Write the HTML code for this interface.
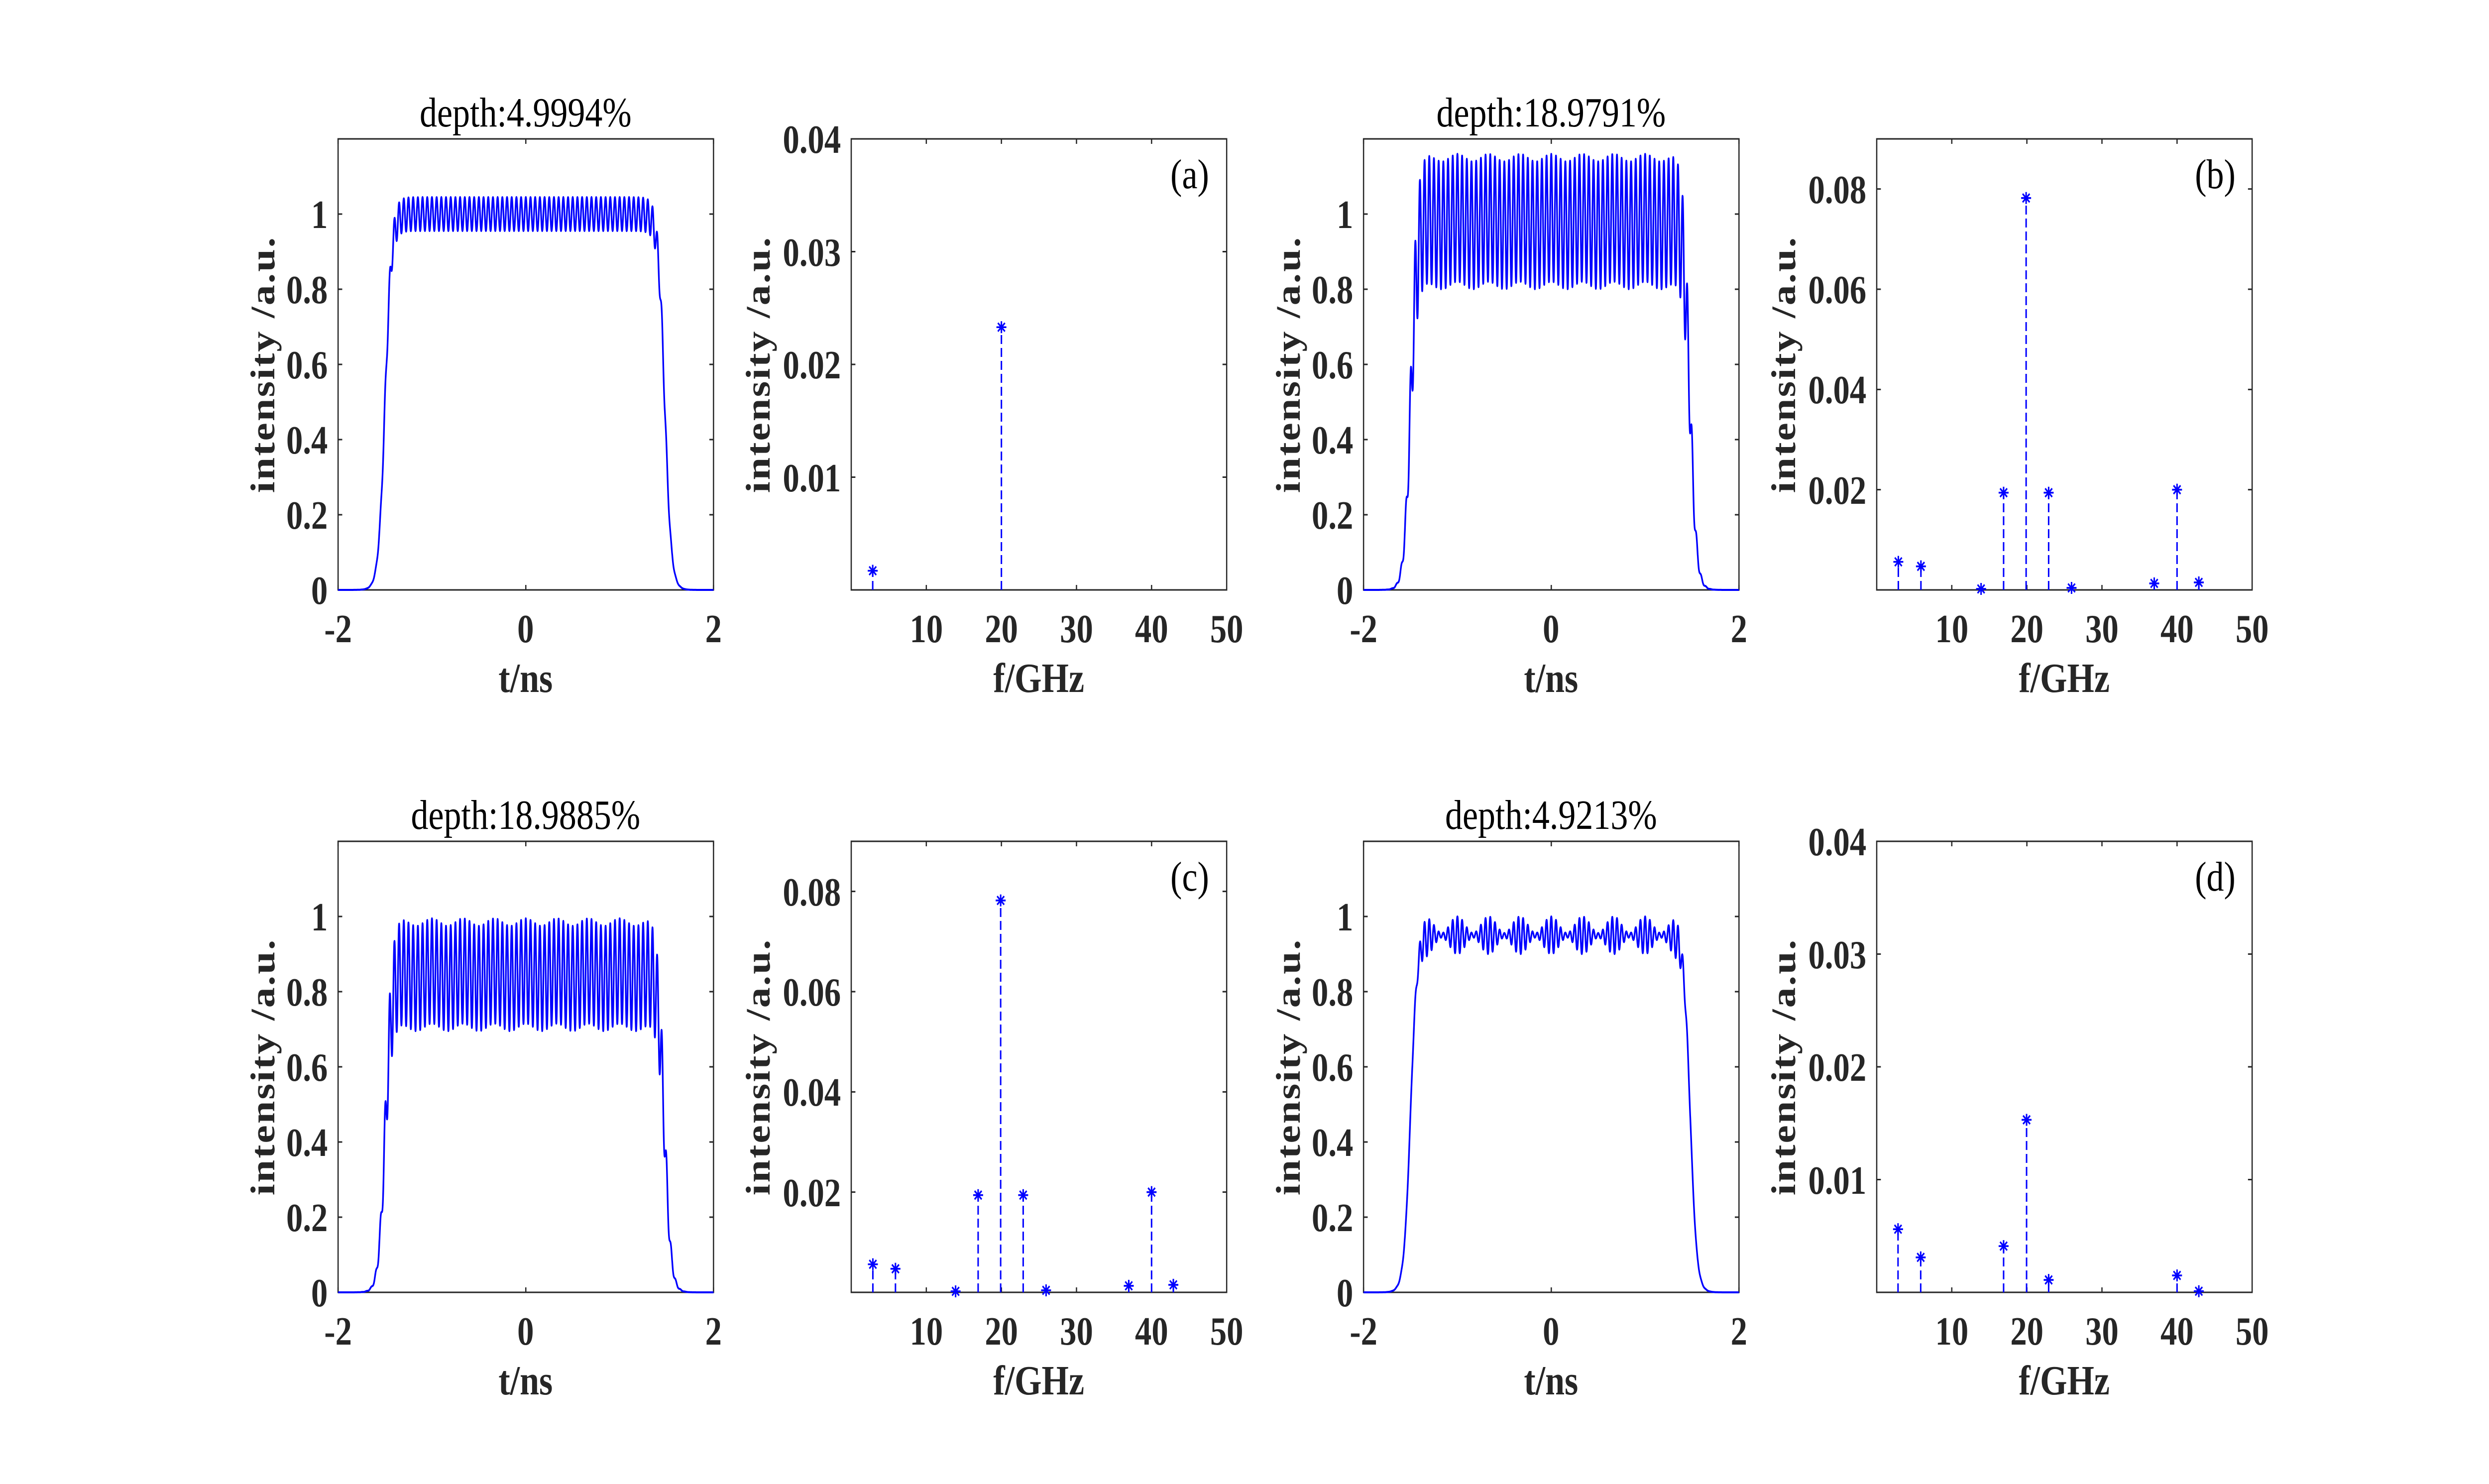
<!DOCTYPE html>
<html><head><meta charset="utf-8"><style>
html,body{margin:0;padding:0;background:#fff;overflow:hidden;width:100%;height:100%;}
svg{display:block;width:100vw;height:100vh;position:absolute;left:0;top:0}
.tk{font-family:"Liberation Serif",serif;font-weight:bold;font-size:80px;fill:#262626}
.tt{font-family:"Liberation Serif",serif;font-size:84px;fill:#000}
.yl{font-family:"Liberation Serif",serif;font-weight:bold;font-size:82px;fill:#262626;letter-spacing:3px}
.xl{font-family:"Liberation Serif",serif;font-weight:bold;font-size:84px;fill:#262626}
</style></head><body>
<svg id="s" viewBox="0 0 6000 2981" preserveAspectRatio="none" xmlns="http://www.w3.org/2000/svg">
<rect width="6000" height="2981" fill="#fff"/>
<g id="g"></g>
<text class="tt" x="1267" y="254" text-anchor="middle">depth:4.9994%</text>
<text class="tt" x="3739" y="254" text-anchor="middle">depth:18.9791%</text>
<text class="tt" x="1267" y="1665" text-anchor="middle">depth:18.9885%</text>
<text class="tt" x="3739" y="1665" text-anchor="middle">depth:4.9213%</text>
<text class="tt" x="2868" y="378" text-anchor="middle">(a)</text>
<text class="tt" x="5340" y="378" text-anchor="middle">(b)</text>
<text class="tt" x="2868" y="1789" text-anchor="middle">(c)</text>
<text class="tt" x="5340" y="1789" text-anchor="middle">(d)</text>
<text class="yl" transform="translate(661,732) rotate(-90)" text-anchor="middle">intensity /a.u.</text>
<text class="yl" transform="translate(1855,732) rotate(-90)" text-anchor="middle">intensity /a.u.</text>
<text class="yl" transform="translate(3133,732) rotate(-90)" text-anchor="middle">intensity /a.u.</text>
<text class="yl" transform="translate(4327,732) rotate(-90)" text-anchor="middle">intensity /a.u.</text>
<text class="yl" transform="translate(661,2143) rotate(-90)" text-anchor="middle">intensity /a.u.</text>
<text class="yl" transform="translate(1855,2143) rotate(-90)" text-anchor="middle">intensity /a.u.</text>
<text class="yl" transform="translate(3133,2143) rotate(-90)" text-anchor="middle">intensity /a.u.</text>
<text class="yl" transform="translate(4327,2143) rotate(-90)" text-anchor="middle">intensity /a.u.</text>
<text class="xl" x="1267" y="1390" text-anchor="middle">t/ns</text>
<text class="xl" x="2504" y="1390" text-anchor="middle">f/GHz</text>
<text class="xl" x="3739" y="1390" text-anchor="middle">t/ns</text>
<text class="xl" x="4976" y="1390" text-anchor="middle">f/GHz</text>
<text class="xl" x="1267" y="2801" text-anchor="middle">t/ns</text>
<text class="xl" x="2504" y="2801" text-anchor="middle">f/GHz</text>
<text class="xl" x="3739" y="2801" text-anchor="middle">t/ns</text>
<text class="xl" x="4976" y="2801" text-anchor="middle">f/GHz</text>
<g class="tk" text-anchor="end">
<text x="790" y="1213">0</text><text x="790" y="1062">0.2</text><text x="790" y="911">0.4</text><text x="790" y="760">0.6</text><text x="790" y="609">0.8</text><text x="790" y="458">1</text>
<text x="3262" y="1213">0</text><text x="3262" y="1062">0.2</text><text x="3262" y="911">0.4</text><text x="3262" y="760">0.6</text><text x="3262" y="609">0.8</text><text x="3262" y="458">1</text>
<text x="790" y="2624">0</text><text x="790" y="2473">0.2</text><text x="790" y="2322">0.4</text><text x="790" y="2171">0.6</text><text x="790" y="2020">0.8</text><text x="790" y="1869">1</text>
<text x="3262" y="2624">0</text><text x="3262" y="2473">0.2</text><text x="3262" y="2322">0.4</text><text x="3262" y="2171">0.6</text><text x="3262" y="2020">0.8</text><text x="3262" y="1869">1</text>
<text x="2027" y="307">0.04</text><text x="2027" y="534">0.03</text><text x="2027" y="760">0.02</text><text x="2027" y="987">0.01</text>
<text x="4499" y="408">0.08</text><text x="4499" y="609">0.06</text><text x="4499" y="810">0.04</text><text x="4499" y="1012">0.02</text>
<text x="2027" y="1819">0.08</text><text x="2027" y="2020">0.06</text><text x="2027" y="2221">0.04</text><text x="2027" y="2423">0.02</text>
<text x="4499" y="1718">0.04</text><text x="4499" y="1945">0.03</text><text x="4499" y="2171">0.02</text><text x="4499" y="2398">0.01</text>
</g>
<g class="tk" text-anchor="middle">
<text x="815" y="1290">-2</text><text x="1267" y="1290">0</text><text x="1720" y="1290">2</text>
<text x="3287" y="1290">-2</text><text x="3739" y="1290">0</text><text x="4192" y="1290">2</text>
<text x="815" y="2701">-2</text><text x="1267" y="2701">0</text><text x="1720" y="2701">2</text>
<text x="3287" y="2701">-2</text><text x="3739" y="2701">0</text><text x="4192" y="2701">2</text>
<text x="2233" y="1290">10</text><text x="2414" y="1290">20</text><text x="2595" y="1290">30</text><text x="2776" y="1290">40</text><text x="2957" y="1290">50</text>
<text x="4705" y="1290">10</text><text x="4886" y="1290">20</text><text x="5067" y="1290">30</text><text x="5248" y="1290">40</text><text x="5429" y="1290">50</text>
<text x="2233" y="2701">10</text><text x="2414" y="2701">20</text><text x="2595" y="2701">30</text><text x="2776" y="2701">40</text><text x="2957" y="2701">50</text>
<text x="4705" y="2701">10</text><text x="4886" y="2701">20</text><text x="5067" y="2701">30</text><text x="5248" y="2701">40</text><text x="5429" y="2701">50</text>
</g>
</svg>
<script>
(function(){
var g=document.getElementById('g'),NS='http://www.w3.org/2000/svg';
function el(n,a){var e=document.createElementNS(NS,n);for(var k in a)e.setAttribute(k,a[k]);g.appendChild(e);return e;}
var W=905,H=906,AX='#262626';
function axes(L,T,xt,yt){
 el('rect',{x:L,y:T,width:W,height:H,fill:'none',stroke:AX,'stroke-width':3});
 var d='';
 xt.forEach(function(x){d+='M'+x+' '+(T+H)+'v-10M'+x+' '+T+'v10';});
 yt.forEach(function(y){d+='M'+L+' '+y+'h10M'+(L+W)+' '+y+'h-10';});
 el('path',{d:d,stroke:AX,'stroke-width':3,fill:'none'});
}
function sig(x){return 1/(1+Math.exp(-x));}
function timeplot(L,T,f){
 var xt=[L,L+W/2,L+W],yt=[];for(var i=0;i<=5;i++)yt.push(T+H*(1-i*0.2/1.2));
 axes(L,T,xt,yt);
 var d='',N=3000;
 for(var i=0;i<=N;i++){var t=-2+4*i/N;var env=sig((t+1.5)/0.035)*sig((1.48-t)/0.035);
  var v=env*f(t);var x=L+W*(t+2)/4,y=T+H*(1-v/1.2);d+=(i?'L':'M')+x.toFixed(1)+' '+y.toFixed(1);}
 el('path',{d:d,stroke:'#0000ff','stroke-width':4,fill:'none','stroke-linejoin':'round'});
}
function spec(L,T,ymax,ticks,pts){
 var xt=[];for(var i=1;i<=4;i++)xt.push(L+W*i/5);
 var yt=ticks.map(function(v){return T+H*(1-v/ymax);});
 axes(L,T,xt,yt);
 pts.forEach(function(p){var x=L+W*p[0]/50,y=T+H*(1-p[1]/ymax);
  el('path',{d:'M'+x+' '+(T+H)+'V'+y,stroke:'#0000ff','stroke-width':3.6,'stroke-dasharray':'18,8',fill:'none'});
  var r=12,q=8.5;
  el('path',{d:'M'+x+' '+(y-r)+'v'+2*r+'M'+(x-r)+' '+y+'h'+2*r+'M'+(x-q)+' '+(y-q)+'l'+2*q+' '+2*q+'M'+(x-q)+' '+(y+q)+'l'+2*q+' '+(-2*q),stroke:'#0000ff','stroke-width':3.6,fill:'none'});
 });
}
var PI2=2*Math.PI;
timeplot(815,279,function(t){return 1.0+0.045*Math.cos(PI2*20*t);});
timeplot(3287,279,function(t){return 0.98+0.17*Math.cos(PI2*20*t)+0.01*Math.cos(PI2*3*t);});
timeplot(815,1690,function(t){return 0.845+0.14*Math.cos(PI2*20*t)+0.01*Math.cos(PI2*3*t);});
timeplot(3287,1690,function(t){return 0.95+0.028*Math.cos(PI2*20*t)+0.012*Math.cos(PI2*17*t)+0.01*Math.cos(PI2*23*t);});
var F=[2.88,5.89,13.9,16.9,19.9,22.9,25.95,36.96,40,42.9];
var bv=[0.0056,0.0047,0.0002,0.0194,0.0782,0.0194,0.0004,0.0013,0.02,0.0015];
spec(2052,279,0.04,[0.01,0.02,0.03],[[2.86,0.0017],[20,0.0233]]);
spec(4524,279,0.09,[0.02,0.04,0.06,0.08],F.map(function(f,i){return [f,bv[i]];}));
spec(2052,1690,0.09,[0.02,0.04,0.06,0.08],F.map(function(f,i){return [f,bv[i]];}));
spec(4524,1690,0.04,[0.01,0.02,0.03],[[2.84,0.0056],[5.86,0.0031],[16.9,0.0041],[19.96,0.0153],[22.9,0.0011],[40,0.0015],[42.9,0.0001]]);
})();
</script>
</body></html>
